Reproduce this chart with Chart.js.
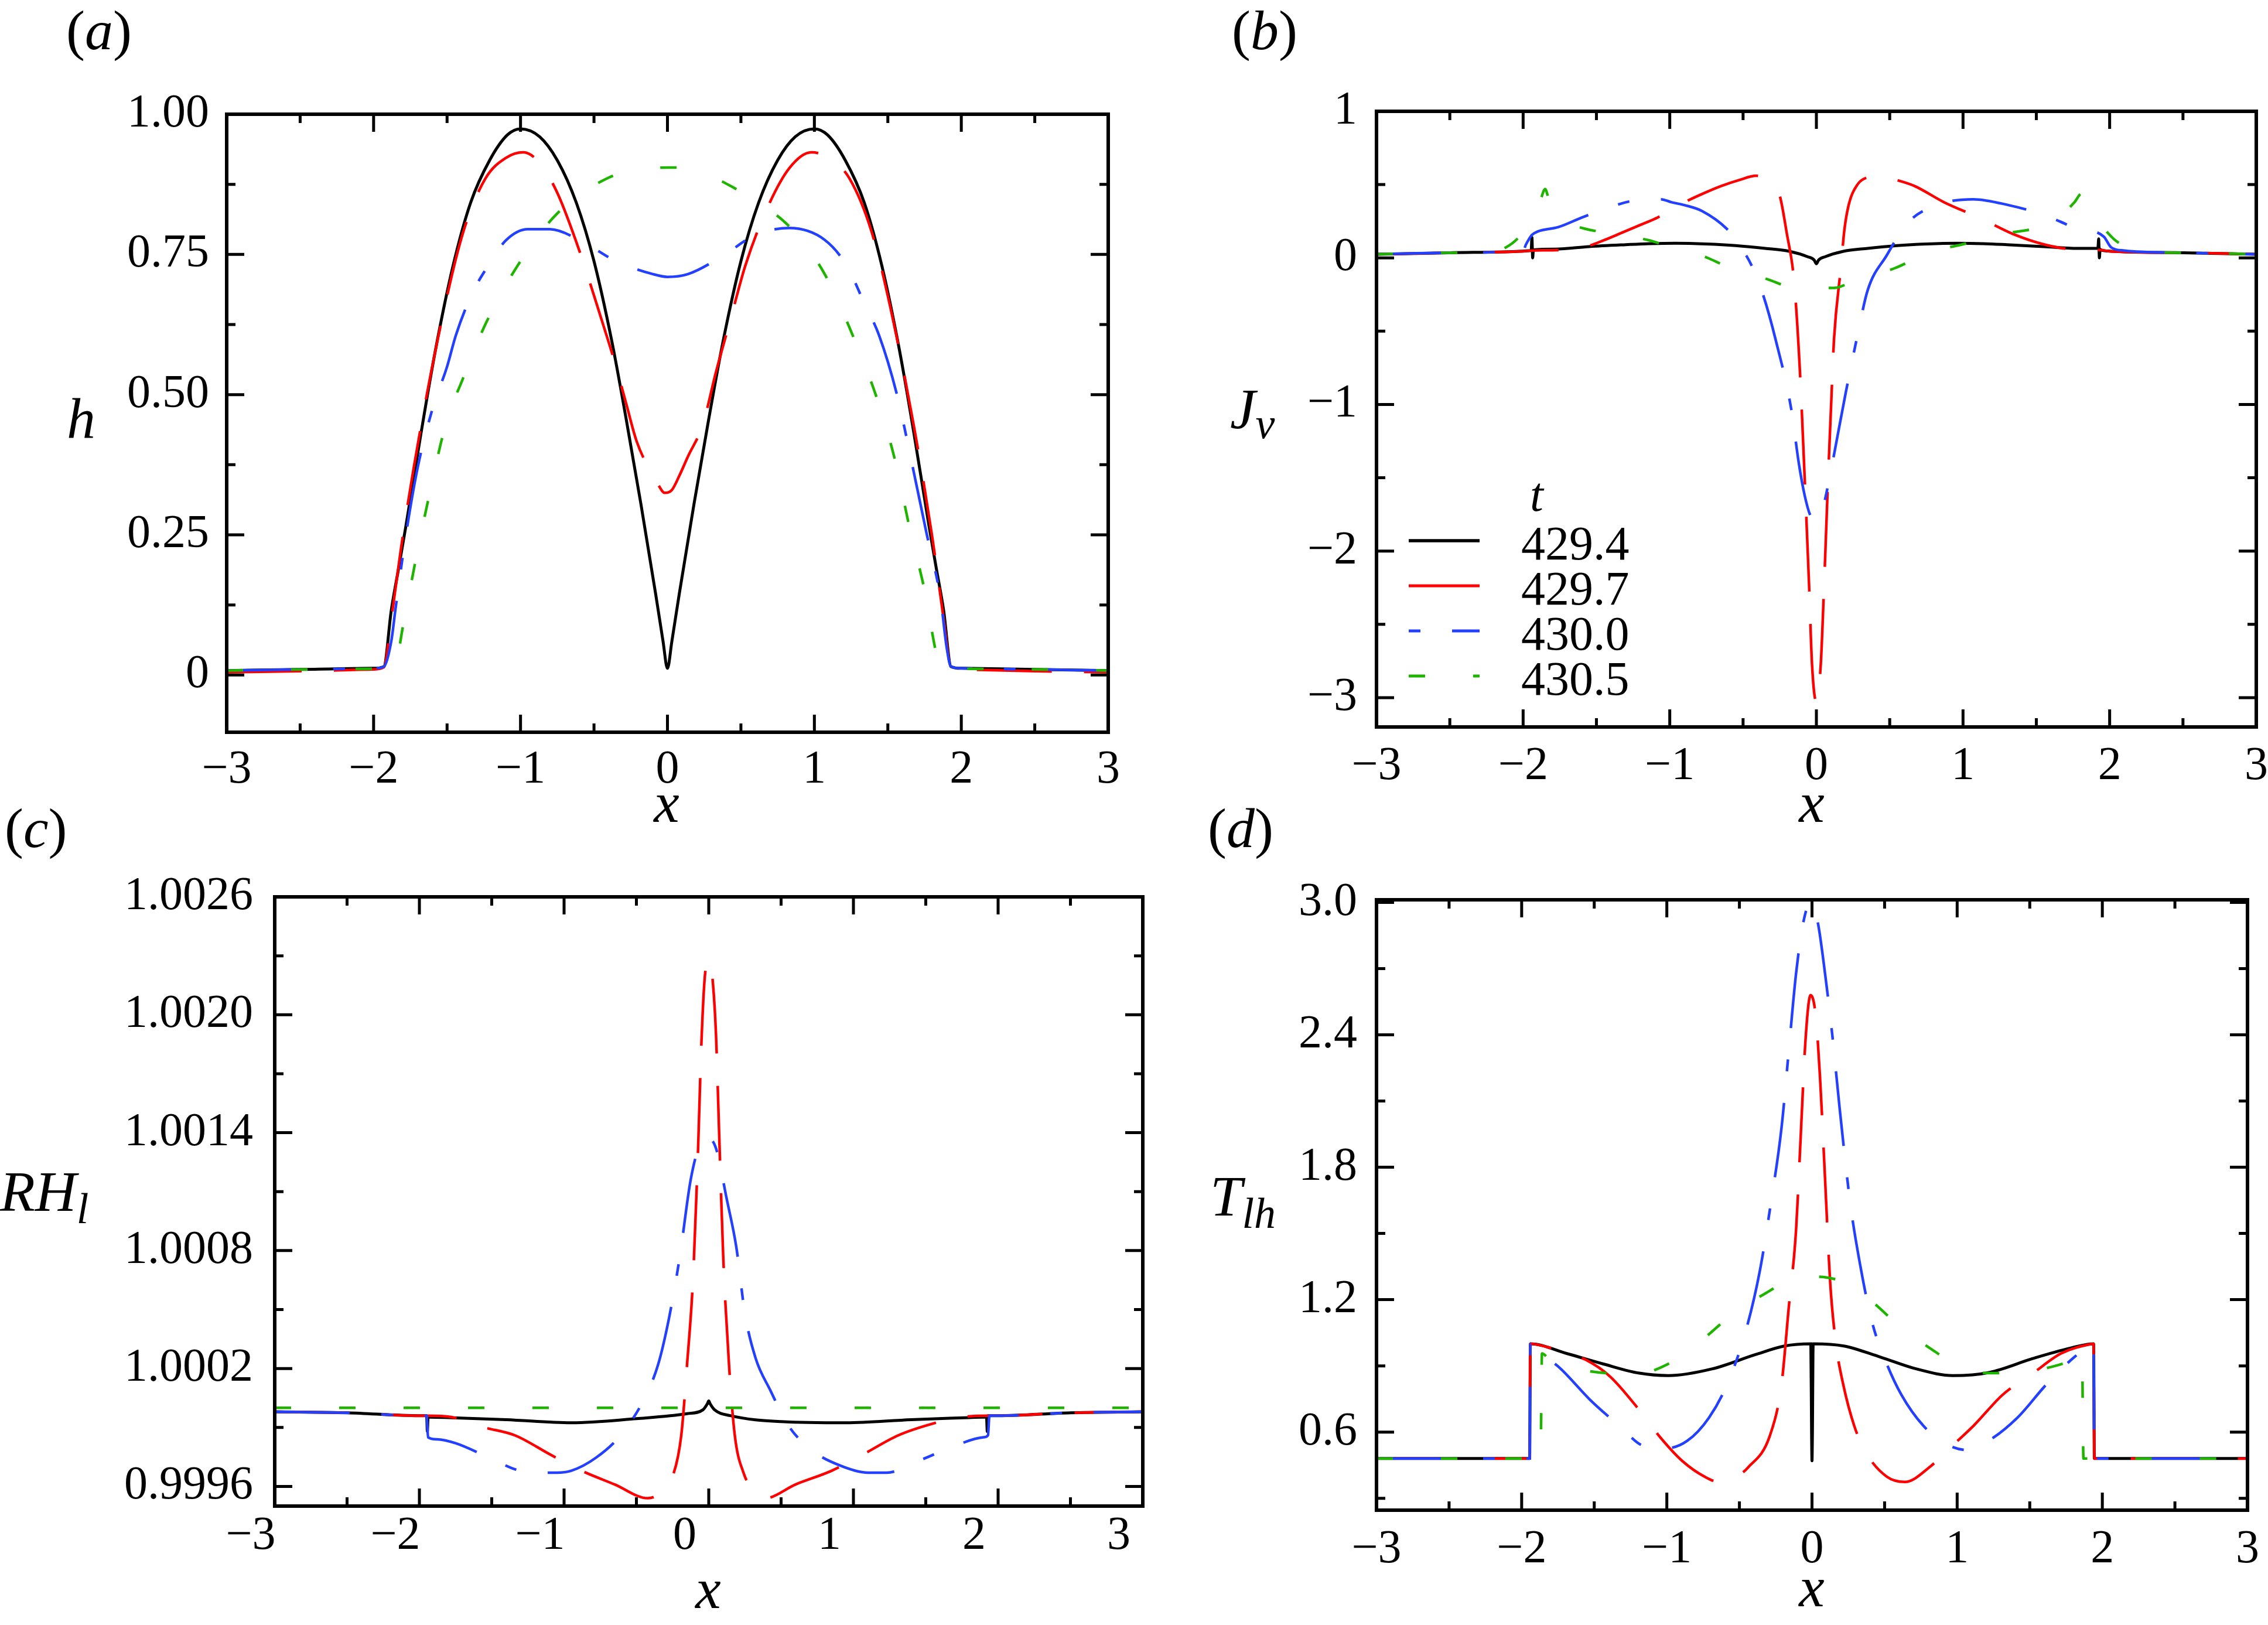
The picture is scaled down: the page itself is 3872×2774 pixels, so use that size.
<!DOCTYPE html>
<html>
<head>
<meta charset="utf-8">
<script src="https://cdn.jsdelivr.net/npm/chart.js@4.4.0/dist/chart.umd.min.js"></script>
<style>
  html, body { margin: 0; padding: 0; background: #fff; overflow: hidden; }
  #page { position: relative; width: 3872px; height: 2774px; background: #fff; }
  canvas { position: absolute; }
</style>
</head>
<body>
<div id="page">
  <canvas id="chartA"></canvas>
  <canvas id="chartB"></canvas>
  <canvas id="chartC"></canvas>
  <canvas id="chartD"></canvas>
</div>
<script>
// ---- series / ticks ----
const seriesNames = ["429.4", "429.7", "430.0", "430.5"];

const xTicks = [-3, -2, -1, 0, 1, 2, 3];
const xTickLabels = ["\u22123", "\u22122", "\u22121", "0", "1", "2", "3"];
const xMinor = [-2.5, -1.5, -0.5, 0.5, 1.5, 2.5];

const hTicks = [0, 0.25, 0.5, 0.75, 1];
const hTickLabels = ["0", "0.25", "0.50", "0.75", "1.00"];
const hMinor = [0.125, 0.375, 0.625, 0.875];

const jTicks = [-3, -2, -1, 0, 1];
const jTickLabels = ["\u22123", "\u22122", "\u22121", "0", "1"];
const jMinor = [-2.5, -1.5, -0.5, 0.5];

const rhTicks = [0.9996, 1.0002, 1.0008, 1.0014, 1.0020, 1.0026];
const rhTickLabels = ["0.9996", "1.0002", "1.0008", "1.0014", "1.0020", "1.0026"];
const rhMinor = [0.9999, 1.0005, 1.0011, 1.0017, 1.0023];

const tTicks = [0.6, 1.2, 1.8, 2.4, 3.0];
const tTickLabels = ["0.6", "1.2", "1.8", "2.4", "3.0"];
const tMinor = [0.3, 0.9, 1.5, 2.1, 2.7];

// ---- (a) h ----
const hX0 = [-3, -2.5, -2.0, -1.93, -1.88, -1.83, -1.78, -1.68, -1.58, -1.46, -1.34, -1.21, -1.09, -1.0, -0.87, -0.75, -0.62, -0.5, -0.38, -0.28, -0.18, -0.08, -0.03, 0, 0.03, 0.08, 0.18, 0.28, 0.38, 0.5, 0.62, 0.75, 0.87, 1.0, 1.09, 1.21, 1.34, 1.46, 1.58, 1.68, 1.78, 1.83, 1.88, 1.93, 2.0, 2.5, 3];
const hY0 = [0.008, 0.010, 0.012, 0.015, 0.115, 0.19, 0.266, 0.427, 0.578, 0.729, 0.842, 0.918, 0.963, 0.974, 0.96, 0.918, 0.842, 0.738, 0.597, 0.455, 0.304, 0.144, 0.06, 0.012, 0.06, 0.144, 0.304, 0.455, 0.597, 0.738, 0.842, 0.918, 0.96, 0.974, 0.963, 0.918, 0.842, 0.729, 0.578, 0.427, 0.266, 0.19, 0.115, 0.015, 0.012, 0.010, 0.008];

const hX1 = [-3, -2.5, -2.0, -1.93, -1.88, -1.8, -1.68, -1.53, -1.39, -1.24, -1.1, -0.98, -0.87, -0.75, -0.6, -0.45, -0.35, -0.28, -0.21, -0.12, -0.06, -0.02, 0.03, 0.08, 0.14, 0.24, 0.33, 0.43, 0.53, 0.68, 0.83, 0.98, 1.1, 1.24, 1.39, 1.53, 1.68, 1.8, 1.88, 1.93, 2.0, 2.5, 3];
const hY1 = [0.005, 0.007, 0.010, 0.014, 0.10, 0.25, 0.44, 0.64, 0.79, 0.885, 0.922, 0.932, 0.913, 0.86, 0.757, 0.635, 0.55, 0.483, 0.417, 0.365, 0.338, 0.325, 0.33, 0.355, 0.39, 0.446, 0.54, 0.635, 0.73, 0.833, 0.904, 0.932, 0.922, 0.885, 0.79, 0.64, 0.44, 0.25, 0.10, 0.014, 0.010, 0.007, 0.005];

const hX2 = [-3, -2.5, -2.0, -1.93, -1.88, -1.85, -1.78, -1.7, -1.6, -1.5, -1.44, -1.33, -1.22, -1.1, -0.95, -0.8, -0.6, -0.35, -0.1, 0, 0.14, 0.38, 0.6, 0.83, 1.07, 1.22, 1.34, 1.44, 1.56, 1.67, 1.76, 1.86, 1.9, 1.93, 2.0, 2.5, 3];
const hY2 = [0.008, 0.010, 0.012, 0.015, 0.06, 0.12, 0.25, 0.37, 0.474, 0.55, 0.606, 0.68, 0.73, 0.775, 0.795, 0.795, 0.776, 0.738, 0.715, 0.71, 0.715, 0.748, 0.785, 0.797, 0.776, 0.73, 0.663, 0.606, 0.502, 0.37, 0.257, 0.134, 0.05, 0.015, 0.012, 0.010, 0.008];

const hX3 = [-3, -2.5, -2.0, -1.86, -1.8, -1.71, -1.63, -1.51, -1.39, -1.24, -1.02, -0.75, -0.4, -0.2, 0, 0.2, 0.43, 0.6, 0.78, 0.88, 1.07, 1.27, 1.43, 1.55, 1.65, 1.75, 1.83, 1.86, 2.0, 2.5, 3];
const hY3 = [0.008, 0.010, 0.011, 0.012, 0.087, 0.21, 0.31, 0.446, 0.53, 0.625, 0.73, 0.823, 0.887, 0.9, 0.905, 0.9, 0.872, 0.845, 0.812, 0.785, 0.715, 0.6, 0.49, 0.382, 0.26, 0.151, 0.038, 0.012, 0.011, 0.010, 0.008];

// ---- (b) J_v ----
const jX0 = [-3, -2.5, -2.0, -1.95, -1.945, -1.94, -1.935, -1.93, -1.78, -1.55, -1.3, -1.14, -0.96, -0.75, -0.55, -0.35, -0.18, -0.06, -0.015, 0, 0.015, 0.06, 0.18, 0.35, 0.55, 0.75, 0.96, 1.14, 1.3, 1.55, 1.78, 1.92, 1.925, 1.93, 1.935, 1.94, 2.0, 2.5, 3];
const jY0 = [0.025, 0.035, 0.046, 0.05, 0.05, 0.14, 0.0, 0.055, 0.06, 0.077, 0.09, 0.097, 0.1, 0.095, 0.084, 0.065, 0.044, 0.008, -0.015, -0.04, -0.015, 0.008, 0.044, 0.065, 0.084, 0.095, 0.1, 0.097, 0.09, 0.077, 0.065, 0.066, 0.13, 0.0, 0.06, 0.055, 0.046, 0.035, 0.025];

const jX1 = [-3, -2.5, -2.0, -1.94, -1.78, -1.65, -1.56, -1.45, -1.33, -1.2, -1.08, -0.89, -0.77, -0.65, -0.53, -0.41, -0.33, -0.25, -0.2, -0.16, -0.14, -0.11, -0.08, -0.05, -0.03, 0, 0.03, 0.05, 0.08, 0.11, 0.12, 0.17, 0.19, 0.22, 0.28, 0.35, 0.43, 0.55, 0.67, 0.87, 1.12, 1.34, 1.56, 1.81, 1.94, 2.0, 2.5, 3];
const jY1 = [0.025, 0.035, 0.045, 0.05, 0.053, 0.065, 0.08, 0.12, 0.17, 0.225, 0.277, 0.384, 0.44, 0.49, 0.53, 0.56, 0.53, 0.424, 0.157, -0.083, -0.31, -0.82, -1.5, -2.23, -2.77, -3.03, -2.77, -2.3, -1.5, -0.776, -0.556, -0.036, 0.184, 0.36, 0.5, 0.55, 0.56, 0.53, 0.49, 0.38, 0.27, 0.163, 0.09, 0.054, 0.054, 0.045, 0.035, 0.025];

const jX2 = [-3, -2.5, -2.0, -1.98, -1.94, -1.9, -1.76, -1.6, -1.45, -1.28, -1.15, -1.06, -0.99, -0.9, -0.78, -0.61, -0.52, -0.44, -0.36, -0.28, -0.17, -0.12, -0.08, -0.04, 0, 0.04, 0.09, 0.13, 0.2, 0.28, 0.35, 0.48, 0.62, 0.82, 1.07, 1.31, 1.56, 1.76, 1.96, 2.01, 2.1, 2.5, 3];
const jY2 = [0.025, 0.035, 0.05, 0.093, 0.157, 0.18, 0.21, 0.275, 0.33, 0.384, 0.398, 0.4, 0.38, 0.36, 0.32, 0.197, 0.08, -0.056, -0.263, -0.55, -1.04, -1.4, -1.62, -1.76, -1.79, -1.72, -1.5, -1.29, -0.92, -0.53, -0.22, 0.018, 0.236, 0.36, 0.4, 0.36, 0.29, 0.207, 0.145, 0.072, 0.05, 0.035, 0.025];

const jX3 = [-3, -2.5, -2.2, -2.12, -2.04, -1.95, -1.88, -1.85, -1.82, -1.75, -1.65, -1.57, -1.47, -1.3, -1.14, -1.04, -0.85, -0.73, -0.63, -0.45, -0.32, -0.22, -0.1, 0, 0.12, 0.23, 0.35, 0.53, 0.77, 1.02, 1.27, 1.51, 1.65, 1.76, 1.81, 1.85, 1.92, 1.96, 2.03, 2.12, 2.2, 2.5, 3];
const jY3 = [0.025, 0.035, 0.04, 0.07, 0.13, 0.25, 0.40, 0.47, 0.38, 0.27, 0.22, 0.197, 0.177, 0.15, 0.12, 0.09, 0.04, -0.005, -0.05, -0.11, -0.15, -0.187, -0.2, -0.205, -0.205, -0.17, -0.13, -0.072, 0.036, 0.098, 0.163, 0.207, 0.27, 0.38, 0.44, 0.36, 0.24, 0.2, 0.127, 0.07, 0.04, 0.035, 0.025];

// ---- (c) RH_l ----
const rX0 = [-3, -2.5, -2.0, -1.95, -1.945, -1.94, -1.93, -1.8, -1.4, -0.95, -0.5, -0.15, -0.04, -0.01, 0, 0.01, 0.04, 0.15, 0.5, 0.95, 1.4, 1.8, 1.92, 1.925, 1.93, 1.94, 2.0, 2.5, 3];
const rY0 = [0.99998, 0.999975, 0.99996, 0.99996, 0.99988, 0.99995, 0.999952, 0.99995, 0.99994, 0.999924, 0.999945, 0.99997, 0.99999, 1.00002, 1.000035, 1.00002, 0.99999, 0.99996, 0.99993, 0.999924, 0.99994, 0.99995, 0.999953, 0.99988, 0.99996, 0.99996, 0.99996, 0.999975, 0.99998];

const rX1 = [-3, -2.5, -2.0, -1.94, -1.78, -1.55, -1.34, -1.09, -0.88, -0.65, -0.42, -0.33, -0.25, -0.19, -0.15, -0.11, -0.075, -0.05, -0.025, 0.005, 0.03, 0.05, 0.075, 0.1, 0.14, 0.18, 0.24, 0.32, 0.39, 0.6, 0.85, 1.06, 1.31, 1.55, 1.75, 1.93, 2.0, 2.5, 3];
const rY1 = [0.99998, 0.999975, 0.99996, 0.99996, 0.999953, 0.9999, 0.99986, 0.99976, 0.99968, 0.99961, 0.99954, 0.99957, 0.99965, 0.99986, 1.00022, 1.00064, 1.00129, 1.00187, 1.00221, 1.00228, 1.00215, 1.0019, 1.00132, 1.00077, 1.00022, 0.99986, 0.99967, 0.99957, 0.99954, 0.99961, 0.99968, 0.99976, 0.99986, 0.99992, 0.999953, 0.99996, 0.99996, 0.999975, 0.99998];

const rX2 = [-3, -2.5, -2.0, -1.95, -1.94, -1.88, -1.75, -1.5, -1.3, -1.05, -0.95, -0.78, -0.61, -0.45, -0.35, -0.275, -0.2, -0.125, -0.06, 0, 0.05, 0.125, 0.19, 0.25, 0.325, 0.425, 0.55, 0.72, 0.93, 1.1, 1.23, 1.45, 1.7, 1.9, 1.93, 1.94, 2.0, 2.5, 3];
const rY2 = [0.99998, 0.999975, 0.99996, 0.99996, 0.99985, 0.99984, 0.99982, 0.99974, 0.99968, 0.99967, 0.99968, 0.999746, 0.99986, 1.00004, 1.00022, 1.000455, 1.00077, 1.00116, 1.00134, 1.00137, 1.00132, 1.00106, 1.00082, 1.00048, 1.00025, 1.00009, 0.99991, 0.99978, 0.9997, 0.99967, 0.99967, 0.99973, 0.999806, 0.99985, 0.99986, 0.99996, 0.99996, 0.999975, 0.99998];

const rX3 = [-3, -2, -1, 0, 1, 2, 3];
const rY3 = [1.0, 1.0, 1.0, 1.0, 1.0, 1.0, 1.0];

// ---- (d) T_lh ----
const tX0 = [-3, -2.0, -1.945, -1.94, -1.69, -1.44, -1.19, -0.99, -0.69, -0.39, -0.19, -0.008, -0.003, 0, 0.003, 0.008, 0.22, 0.47, 0.72, 0.97, 1.22, 1.52, 1.77, 1.94, 1.945, 2.0, 3];
const tY0 = [0.48, 0.48, 0.48, 1.0, 0.956, 0.909, 0.867, 0.856, 0.886, 0.951, 0.99, 1.0, 0.6, 0.47, 0.6, 1.0, 0.99, 0.94, 0.886, 0.856, 0.87, 0.933, 0.979, 1.0, 0.48, 0.48, 0.48];

const tX1 = [-3, -2.0, -1.945, -1.94, -1.79, -1.56, -1.39, -1.19, -1.04, -0.89, -0.74, -0.64, -0.54, -0.44, -0.29, -0.21, -0.16, -0.11, -0.075, -0.045, -0.01, 0.025, 0.055, 0.09, 0.125, 0.165, 0.215, 0.29, 0.365, 0.515, 0.64, 0.815, 0.965, 1.115, 1.315, 1.515, 1.715, 1.915, 1.94, 1.945, 2.0, 3];
const tY1 = [0.48, 0.48, 0.48, 1.0, 0.979, 0.928, 0.851, 0.7, 0.572, 0.467, 0.398, 0.374, 0.39, 0.44, 0.584, 0.816, 1.165, 1.514, 1.979, 2.374, 2.58, 2.49, 2.21, 1.747, 1.28, 1.0, 0.816, 0.63, 0.514, 0.398, 0.374, 0.444, 0.537, 0.63, 0.77, 0.863, 0.956, 0.998, 1.0, 0.48, 0.48, 0.48];

const tX2 = [-3, -2.0, -1.945, -1.94, -1.85, -1.73, -1.53, -1.33, -1.16, -1.01, -0.86, -0.71, -0.585, -0.46, -0.36, -0.285, -0.21, -0.16, -0.11, -0.06, -0.01, 0.04, 0.09, 0.14, 0.19, 0.265, 0.34, 0.415, 0.515, 0.615, 0.765, 0.915, 1.065, 1.215, 1.415, 1.615, 1.815, 1.94, 1.945, 2.0, 3];
const tY2 = [0.48, 0.48, 0.48, 1.0, 0.95, 0.886, 0.747, 0.63, 0.537, 0.526, 0.56, 0.665, 0.816, 1.049, 1.328, 1.63, 1.979, 2.328, 2.677, 2.909, 3.0, 2.909, 2.677, 2.398, 2.07, 1.63, 1.328, 1.095, 0.909, 0.77, 0.63, 0.549, 0.519, 0.56, 0.665, 0.816, 0.944, 1.0, 0.48, 0.48, 0.48];

const tX3 = [-3, -2.0, -1.87, -1.86, -1.8, -1.73, -1.59, -1.39, -1.19, -0.99, -0.79, -0.535, -0.335, -0.135, 0, 0.215, 0.415, 0.615, 0.815, 1.015, 1.215, 1.465, 1.665, 1.815, 1.86, 1.87, 2.0, 3];
const tY3 = [0.48, 0.48, 0.48, 0.956, 0.92, 0.898, 0.881, 0.867, 0.867, 0.909, 1.0, 1.14, 1.223, 1.293, 1.305, 1.28, 1.19, 1.072, 0.979, 0.898, 0.867, 0.874, 0.898, 0.933, 0.95, 0.48, 0.48, 0.48];

// ---- styles ----
const seriesColors = ["#000000", "#ff0000", "#2440ff", "#1fb400"];
const seriesDash = [[], [128, 55], [128, 54, 20, 54], [28, 82]];
const seriesWidth = [5, 4.5, 4.5, 4.5];
const legendDashOffset = [0, 0, 182, 0];

const SERIF = '"Liberation Serif", "Times New Roman", serif';
const tickFont = { family: SERIF, size: 80 };
const N = (t) => ({ t: t, font: "96px " + SERIF });
const PI = (t) => ({ t: t, font: "italic 96px " + SERIF });
const T = (t) => ({ t: t, font: "italic 98px " + SERIF });
const S = (t, dy) => ({ t: t, font: "italic 74px " + SERIF, dy: dy });

const pts = (xs, ys) => xs.map((x, i) => ({ x: x, y: ys[i] }));

function drawRuns(ctx, x, y, runs, align) {
    let total = 0;
    runs.forEach(r => { ctx.font = r.font; total += ctx.measureText(r.t).width; });
    let cx = align === "center" ? x - total / 2 : x;
    runs.forEach(r => {
        ctx.font = r.font;
        ctx.fillText(r.t, cx, y + (r.dy || 0));
        cx += ctx.measureText(r.t).width;
    });
}

function panelPlugin(p) {
    return {
        id: "panel_" + p.id,
        afterDatasetsDraw(chart) {
            const ctx = chart.ctx;
            const a = chart.chartArea;
            const sx = chart.scales.x;
            const sy = chart.scales.y;
            ctx.save();
            ctx.strokeStyle = "#000";
            ctx.lineWidth = 5;
            ctx.setLineDash([]);
            const xMarks = (vals, len) => vals.forEach(v => {
                const px = sx.getPixelForValue(v);
                ctx.beginPath();
                ctx.moveTo(px, a.bottom); ctx.lineTo(px, a.bottom - len);
                ctx.moveTo(px, a.top); ctx.lineTo(px, a.top + len);
                ctx.stroke();
            });
            const yMarks = (vals, len) => vals.forEach(v => {
                const py = sy.getPixelForValue(v);
                ctx.beginPath();
                ctx.moveTo(a.left, py); ctx.lineTo(a.left + len, py);
                ctx.moveTo(a.right, py); ctx.lineTo(a.right - len, py);
                ctx.stroke();
            });
            xMarks(xTicks, 30);
            xMarks(xMinor, 15);
            yMarks(p.yTicks, 30);
            yMarks(p.yMinor, 15);
            ctx.lineWidth = 6;
            ctx.strokeRect(a.left, a.top, a.right - a.left, a.bottom - a.top);
            ctx.restore();
        },
        afterDraw(chart) {
            const ctx = chart.ctx;
            const bx = p.box[0], by = p.box[1];
            ctx.save();
            ctx.fillStyle = "#000";
            ctx.textBaseline = "alphabetic";
            p.texts.forEach(tx => drawRuns(ctx, tx.x - bx, tx.y - by, tx.runs, tx.align));
            if (p.legend) {
                const L = p.legend;
                drawRuns(ctx, L.tX - bx, L.tY - by, [{ t: "t", font: "italic 82px " + SERIF }]);
                seriesNames.forEach((name, i) => {
                    const ly = L.rows[i] - by;
                    ctx.beginPath();
                    ctx.strokeStyle = seriesColors[i];
                    ctx.lineWidth = seriesWidth[i] + 0.5;
                    ctx.setLineDash(seriesDash[i]);
                    ctx.lineDashOffset = legendDashOffset[i];
                    ctx.moveTo(L.x0 - bx, ly);
                    ctx.lineTo(L.x1 - bx, ly);
                    ctx.stroke();
                    ctx.setLineDash([]);
                    ctx.font = "82px " + SERIF;
                    ctx.fillText(name, L.textX - bx, ly + 32);
                });
            }
            ctx.restore();
        }
    };
}

const panels = [
    {
        id: "a", canvas: "chartA", box: [0, 0, 1960, 1440], area: [387, 195, 1892, 1250],
        yMin: -0.102, yMax: 1.0, yTicks: hTicks, yLabels: hTickLabels, yMinor: hMinor,
        xPad: 17, yPad: 30, xOffset: 0,
        series: [[hX0, hY0], [hX1, hY1], [hX2, hY2], [hX3, hY3]],
        texts: [
            { x: 113, y: 84, runs: [N("("), PI("a"), N(")")] },
            { x: 114, y: 747, runs: [T("h")] },
            { x: 1138, y: 1403, align: "center", runs: [T("x")] }
        ]
    },
    {
        id: "b", canvas: "chartB", box: [1960, 0, 3872, 1440], area: [2350, 190, 3852, 1241],
        yMin: -3.2, yMax: 1, yTicks: jTicks, yLabels: jTickLabels, yMinor: jMinor,
        xPad: 20, yPad: 33, xOffset: 0,
        series: [[jX0, jY0], [jX1, jY1], [jX2, jY2], [jX3, jY3]],
        texts: [
            { x: 2103, y: 84, runs: [N("("), PI("b"), N(")")] },
            { x: 2100, y: 731, runs: [T("J"), S("v", 17)] },
            { x: 3093, y: 1403, align: "center", runs: [T("x")] }
        ],
        legend: { x0: 2405, x1: 2526, textX: 2597, rows: [923, 1000, 1077, 1154], tX: 2612, tY: 872 }
    },
    {
        id: "c", canvas: "chartC", box: [0, 1360, 1960, 2774], area: [469, 1531, 1951, 2571],
        yMin: 0.9995, yMax: 1.0026, yTicks: rhTicks, yLabels: rhTickLabels, yMinor: rhMinor,
        xPad: 4, yPad: 37, xOffset: -41,
        series: [[rX0, rY0], [rX1, rY1], [rX2, rY2], [rX3, rY3]],
        texts: [
            { x: 8, y: 1446, runs: [N("("), PI("c"), N(")")] },
            { x: 0, y: 2067, runs: [T("RH"), S("l", 21)] },
            { x: 1209, y: 2745, align: "center", runs: [T("x")] }
        ]
    },
    {
        id: "d", canvas: "chartD", box: [1960, 1360, 3872, 2774], area: [2350, 1536, 3837, 2578],
        yMin: 0.246, yMax: 3.012, yTicks: tTicks, yLabels: tTickLabels, yMinor: tMinor,
        xPad: 20, yPad: 33, xOffset: 0,
        series: [[tX0, tY0], [tX1, tY1], [tX2, tY2], [tX3, tY3]],
        texts: [
            { x: 2062, y: 1446, runs: [N("("), PI("d"), N(")")] },
            { x: 2066, y: 2075, runs: [T("T"), S("lh", 21)] },
            { x: 3093, y: 2742, align: "center", runs: [T("x")] }
        ]
    }
];

const Y_AXIS_W = 300;
const X_AXIS_H = 150;

function zeroPad(s) {
    s.paddingLeft = 0; s.paddingRight = 0; s.paddingTop = 0; s.paddingBottom = 0;
}

panels.forEach(p => {
    const cv = document.getElementById(p.canvas);
    const [bx, by, bx2, by2] = p.box;
    const [l, t, r, b] = p.area;
    cv.width = bx2 - bx;
    cv.height = by2 - by;
    cv.style.left = bx + "px";
    cv.style.top = by + "px";
    cv.style.width = (bx2 - bx) + "px";
    cv.style.height = (by2 - by) + "px";

    const datasets = p.series.map((s, i) => ({
        label: seriesNames[i],
        data: pts(s[0], s[1]),
        borderColor: seriesColors[i],
        borderWidth: seriesWidth[i],
        borderDash: seriesDash[i],
        pointRadius: 0,
        fill: false,
        cubicInterpolationMode: "monotone",
        order: 3 - i
    }));

    new Chart(cv, {
        type: "line",
        data: { datasets: datasets },
        options: {
            responsive: false,
            animation: false,
            devicePixelRatio: 1,
            parsing: true,
            layout: {
                padding: {
                    left: l - bx - Y_AXIS_W,
                    top: t - by,
                    right: bx2 - r,
                    bottom: by2 - b - X_AXIS_H
                }
            },
            plugins: { legend: { display: false }, tooltip: { enabled: false } },
            scales: {
                x: {
                    type: "linear", position: "bottom", min: -3, max: 3,
                    grid: { display: false, drawTicks: false },
                    border: { display: false },
                    afterBuildTicks: s => { s.ticks = xTicks.map(v => ({ value: v })); },
                    afterFit: s => { s.height = X_AXIS_H; zeroPad(s); },
                    ticks: {
                        autoSkip: false, maxRotation: 0, minRotation: 0,
                        padding: p.xPad, labelOffset: p.xOffset,
                        font: tickFont, color: "#000",
                        callback: (v, i) => xTickLabels[i]
                    }
                },
                y: {
                    type: "linear", position: "left", min: p.yMin, max: p.yMax,
                    grid: { display: false, drawTicks: false },
                    border: { display: false },
                    afterBuildTicks: s => { s.ticks = p.yTicks.map(v => ({ value: v })); },
                    afterFit: s => { s.width = Y_AXIS_W; zeroPad(s); },
                    ticks: {
                        autoSkip: false,
                        padding: p.yPad,
                        font: tickFont, color: "#000",
                        callback: (v, i) => p.yLabels[i]
                    }
                }
            }
        },
        plugins: [panelPlugin(p)]
    });
});
</script>
</body>
</html>
